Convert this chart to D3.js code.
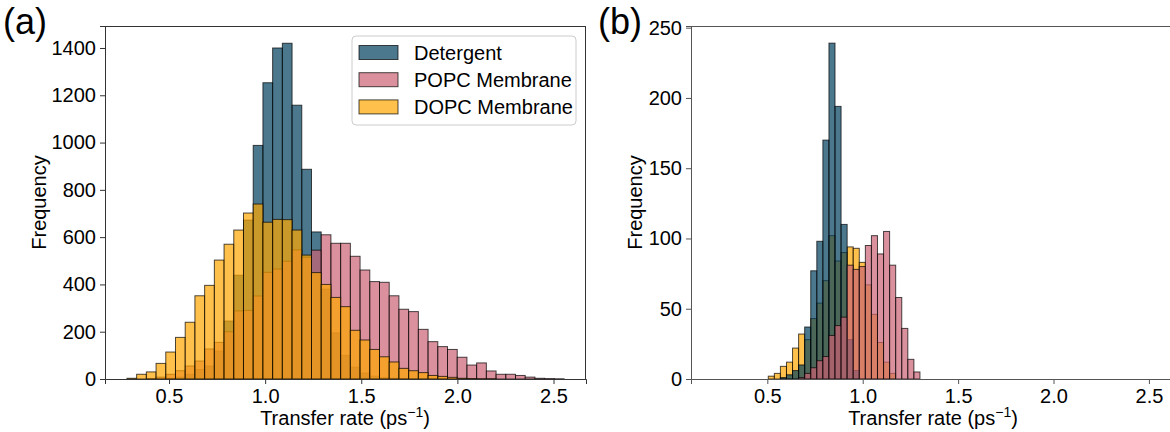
<!DOCTYPE html>
<html>
<head>
<meta charset="utf-8">
<script src="https://cdn.jsdelivr.net/npm/d3@7"></script>
<style>
  body { margin: 0; background: white; }
  text { font-family: "Liberation Sans", Arial, sans-serif; fill: #000; }
</style>
</head>
<body>
<svg id="chart" width="1170" height="432"></svg>
<script>
// histogram bin ranges (a) and (b)
var binRangeA = [0.281, 2.555], binCountA = 45
var binRangeB = [0.505, 1.300], binCountB = 25

// counts per bin, panel (a)
var detergentA = [0, 0, 0, 0, 3, 8, 20, 40, 55, 118, 245, 439, 672, 988, 1253, 1400, 1420, 1158, 887, 622,
  380, 195, 100, 50, 25, 12, 6, 3, 1, 0, 0, 0, 0, 0, 0, 0, 0, 0, 0, 0, 0, 0, 0, 0, 0]
var popcA = [0, 0, 2, 8, 20, 35, 55, 76, 127, 155, 200, 288, 290, 351, 451, 465, 498, 546, 515, 545,
  610, 574, 574, 519, 461, 412, 409, 352, 295, 285, 210, 158, 137, 125, 92, 59, 68, 34, 20, 20, 15, 8, 3, 2, 1]
var dopcA = [3, 20, 30, 66, 114, 176, 240, 352, 396, 503, 570, 630, 702, 740, 663, 675, 674, 630, 524, 450,
  400, 345, 306, 206, 165, 125, 94, 72, 45, 35, 27, 15, 11, 7, 3, 2, 1, 1, 0, 0, 0, 0, 0, 0, 0]

// counts per bin, panel (b)
var detergentB = [0, 0, 1, 3, 6, 10, 37, 77, 98, 170, 239, 194, 110, 28, 6, 0, 0, 0, 0, 0, 0, 0, 0, 0, 0]
var popcB = [0, 0, 0, 0, 0, 1, 4, 8, 13, 16, 31, 38, 44, 81, 78, 80, 95, 102, 89, 105, 81, 58, 36, 14, 5]
var dopcB = [2, 4, 9, 12, 22, 32, 28, 43, 54, 70, 102, 84, 90, 94, 93, 83, 67, 46, 26, 12, 4, 0, 0, 0, 0]

var xTicks = [0.5, 1.0, 1.5, 2.0, 2.5]
var yTicksA = [0, 200, 400, 600, 800, 1000, 1200, 1400]
var yTicksB = [0, 50, 100, 150, 200, 250]
var seriesNames = ["Detergent", "POPC Membrane", "DOPC Membrane"]

var colors = { "Detergent": "#003f5c", "POPC Membrane": "#cb6274", "DOPC Membrane": "#ffa600" }

var svg = d3.select("#chart")

function drawPanel(cfg) {
  var xScale = d3.scaleLinear().domain(cfg.xDomain).range([cfg.left, cfg.right])
  var yScale = d3.scaleLinear().domain(cfg.yDomain).range([cfg.bottom, cfg.top])
  var step = (cfg.binRange[1] - cfg.binRange[0]) / cfg.binCount
  var edges = d3.range(cfg.binCount + 1).map(i => cfg.binRange[0] + i * step)

  var g = svg.append("g")
  var clip = "clip" + cfg.id
  svg.append("clipPath").attr("id", clip).append("rect")
    .attr("x", cfg.left).attr("y", cfg.top)
    .attr("width", cfg.right - cfg.left).attr("height", cfg.bottom - cfg.top)

  cfg.order.forEach(function (name) {
    var counts = cfg.series[name]
    g.append("g").attr("clip-path", "url(#" + clip + ")")
      .selectAll("rect")
      .data(counts.map((c, i) => ({ x0: edges[i], x1: edges[i + 1], n: c })).filter(d => d.n > 0))
      .enter()
      .append("rect")
      .attr("x", d => xScale(d.x0))
      .attr("width", d => xScale(d.x1) - xScale(d.x0))
      .attr("y", d => yScale(d.n))
      .attr("height", d => yScale(0) - yScale(d.n))
      .attr("fill", colors[name])
      .attr("fill-opacity", 0.7)
      .attr("stroke", "#000")
      .attr("stroke-opacity", 0.7)
      .attr("stroke-width", 1)
  })

  var xAxisgen = d3.axisBottom(xScale).tickValues(xTicks).tickFormat(d3.format(".1f")).tickSizeOuter(0).tickSize(5).tickPadding(5)
  var yAxisgen = d3.axisLeft(yScale).tickValues(cfg.yTicks).tickFormat(d3.format("d")).tickSizeOuter(0).tickSize(5).tickPadding(4)
  var xAxis = g.append("g").attr("transform", `translate(0,${cfg.bottom})`).call(xAxisgen)
  var yAxis = g.append("g").attr("transform", `translate(${cfg.left},0)`).call(yAxisgen)
  ;[xAxis, yAxis].forEach(a => {
    a.selectAll("text").style("font-size", "20px").style("font-family", "Liberation Sans, Arial, sans-serif").attr("fill", "#000")
    a.selectAll("line").attr("stroke", cfg.spine)
    a.select(".domain").attr("stroke", cfg.spine)
  })
  // top and right spines
  g.append("line").attr("x1", cfg.left).attr("x2", cfg.right).attr("y1", cfg.top + 0.5).attr("y2", cfg.top + 0.5).attr("stroke", cfg.spine)
  g.append("line").attr("x1", cfg.right - 0.5).attr("x2", cfg.right - 0.5).attr("y1", cfg.top).attr("y2", cfg.bottom).attr("stroke", cfg.spine)

  g.append("text")
    .attr("transform", `translate(${cfg.yLabelX},${(cfg.top + cfg.bottom) / 2}) rotate(-90)`)
    .attr("text-anchor", "middle")
    .style("font-size", "20px")
    .text("Frequency")

  var xl = g.append("text")
    .attr("x", cfg.xLabelX).attr("y", 425)
    .attr("text-anchor", "middle")
    .style("font-size", "20px")
  xl.append("tspan").text("Transfer rate (ps")
  xl.append("tspan").attr("dy", -8).style("font-size", "14px").text("\u22121")
  xl.append("tspan").attr("dy", 8).text(")")

  g.append("text").attr("x", cfg.tagX).attr("y", 34).style("font-size", "36px").text(cfg.tag)
}

drawPanel({
  id: "a", tag: "(a)", tagX: 3,
  left: 105, right: 586, top: 26, bottom: 379,
  xDomain: [0.167, 2.669], yDomain: [0, 1493],
  binRange: binRangeA, binCount: binCountA,
  series: { "Detergent": detergentA, "POPC Membrane": popcA, "DOPC Membrane": dopcA },
  order: ["Detergent", "POPC Membrane", "DOPC Membrane"],
  yTicks: yTicksA, spine: "#333", yLabelX: 46, xLabelX: 345
})

drawPanel({
  id: "b", tag: "(b)", tagX: 598,
  left: 691, right: 1172, top: 26, bottom: 379,
  xDomain: [0.1, 2.621], yDomain: [0, 251.2],
  binRange: binRangeB, binCount: binCountB,
  series: { "Detergent": detergentB, "POPC Membrane": popcB, "DOPC Membrane": dopcB },
  order: ["DOPC Membrane", "Detergent", "POPC Membrane"],
  yTicks: yTicksB, spine: "#555", yLabelX: 642, xLabelX: 933
})

// legend in panel (a)
var legend = svg.append("g")
legend.append("rect")
  .attr("x", 352).attr("y", 36).attr("width", 224).attr("height", 89).attr("rx", 4)
  .attr("fill", "white").attr("fill-opacity", 0.8).attr("stroke", "#ccc")
seriesNames.forEach(function (name, i) {
  var cy = 52.5 + i * 27.2
  legend.append("rect")
    .attr("x", 359).attr("y", cy - 7).attr("width", 39).attr("height", 14)
    .attr("fill", colors[name]).attr("fill-opacity", 0.7)
    .attr("stroke", "#000").attr("stroke-opacity", 0.7)
  legend.append("text")
    .attr("x", 414).attr("y", cy + 7)
    .style("font-size", "20px")
    .text(name)
})
</script>
</body>
</html>
